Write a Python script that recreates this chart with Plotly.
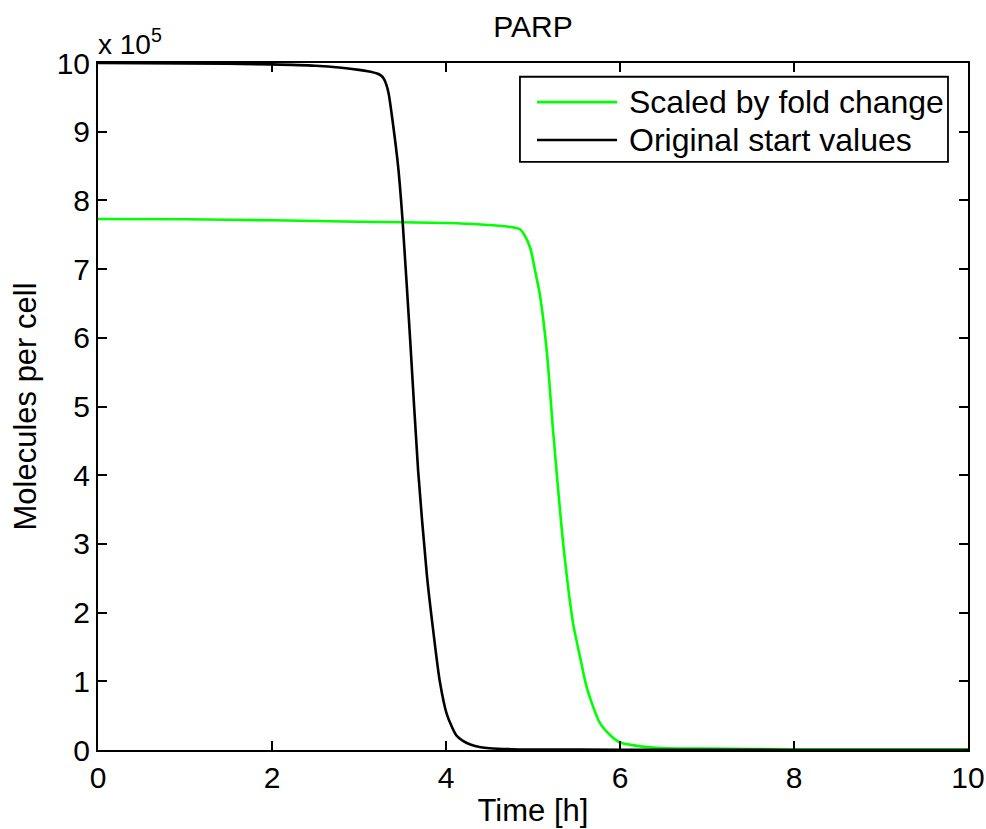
import plotly.graph_objects as go

# Time [h]
t_orig = [0, 1, 2, 2.5, 2.8, 3.0, 3.1, 3.2, 3.25, 3.28, 3.31, 3.34, 3.39, 3.45, 3.5,
          3.59, 3.68, 3.78, 3.85, 3.93, 4.01, 4.12, 4.2, 4.28, 4.4, 4.5, 4.75, 5, 6, 7, 8, 9, 10]
# Molecules per cell, in units of 10^5
v_orig = [10.0, 9.995, 9.98, 9.96, 9.93, 9.90, 9.88, 9.85, 9.82, 9.78, 9.70, 9.56, 9.12, 8.49, 7.72,
          5.93, 4.06, 2.55, 1.77, 0.99, 0.52, 0.21, 0.13, 0.08, 0.04, 0.025, 0.012, 0.008, 0.004,
          0.002, 0.001, 0.001, 0.001]

t_scaled = [0, 1, 2, 3, 4, 4.4, 4.7, 4.8, 4.85, 4.9, 4.97, 5.02, 5.08, 5.16, 5.23, 5.35, 5.46,
            5.55, 5.62, 5.77, 5.9, 6.0, 6.2, 6.46, 7, 8, 9, 10]
v_scaled = [7.73, 7.725, 7.71, 7.69, 7.67, 7.65, 7.62, 7.60, 7.58, 7.50, 7.30, 7.0, 6.62, 5.78,
            4.66, 2.97, 1.85, 1.3, 0.90, 0.39, 0.2, 0.11, 0.06, 0.03, 0.02, 0.012, 0.01, 0.01]

series_names = ["Scaled by fold change", "Original start values"]
series_colors = ["#00ff00", "#000000"]

x_ticks = [0, 2, 4, 6, 8, 10]
y_ticks = list(range(0, 11))

FONT = "Liberation Sans, Arial, sans-serif"

fig = go.Figure()
fig.add_trace(go.Scatter(x=t_scaled, y=v_scaled, mode="lines", name=series_names[0],
                         line=dict(color=series_colors[0], width=2.6, shape="spline", smoothing=0.7),
                         showlegend=False))
fig.add_trace(go.Scatter(x=t_orig, y=v_orig, mode="lines", name=series_names[1],
                         line=dict(color=series_colors[1], width=2.6, shape="spline", smoothing=0.7),
                         showlegend=False))

axis_common = dict(showline=True, linecolor="black", linewidth=2, mirror="ticks",
                   ticks="inside", ticklen=9, tickwidth=1.6, tickcolor="black",
                   showgrid=False, zeroline=False, automargin=False,
                   tickfont=dict(family=FONT, size=30, color="black"))

fig.update_xaxes(range=[0, 10], tickvals=x_ticks, ticktext=[str(v) for v in x_ticks],
                 title=dict(text="Time [h]", font=dict(family=FONT, size=31, color="black"), standoff=6),
                 **axis_common)
fig.update_yaxes(range=[0, 10], tickvals=y_ticks, ticktext=[str(v) for v in y_ticks],
                 title=dict(text="Molecules per cell", font=dict(family=FONT, size=31, color="black"), standoff=11),
                 **axis_common)

# custom MATLAB-style legend
lx0, lx1, ly0, ly1 = 0.485, 0.977, 0.856, 0.980
shapes = [dict(type="rect", xref="paper", yref="paper", x0=lx0, x1=lx1, y0=ly0, y1=ly1,
               line=dict(color="black", width=1.8), fillcolor="white", layer="above")]
annotations = []
row_y = [0.943, 0.888]
for name, color, yy in zip(series_names, series_colors, row_y):
    shapes.append(dict(type="line", xref="paper", yref="paper", x0=0.5046, x1=0.5966, y0=yy, y1=yy,
                       line=dict(color=color, width=2.6), layer="above"))
    annotations.append(dict(xref="paper", yref="paper", x=0.608, y=yy, xanchor="left", yanchor="middle",
                            text=name, showarrow=False, font=dict(family=FONT, size=32, color="black")))

annotations.append(dict(xref="paper", yref="paper", x=0.0, y=1.0, xanchor="left", yanchor="bottom",
                        text="x 10<sup>5</sup>", showarrow=False, yshift=1, xshift=-2,
                        font=dict(family=FONT, size=28, color="black")))

fig.update_layout(
    width=986, height=829,
    margin=dict(l=98, r=18, t=63, b=79),
    paper_bgcolor="white", plot_bgcolor="white",
    title=dict(text="PARP", x=(98 + 968) / 2 / 986, xanchor="center", y=1 - 26 / 829, yanchor="middle",
               font=dict(family=FONT, size=30, color="black")),
    shapes=shapes, annotations=annotations,
)

fig.write_html("out.html")
